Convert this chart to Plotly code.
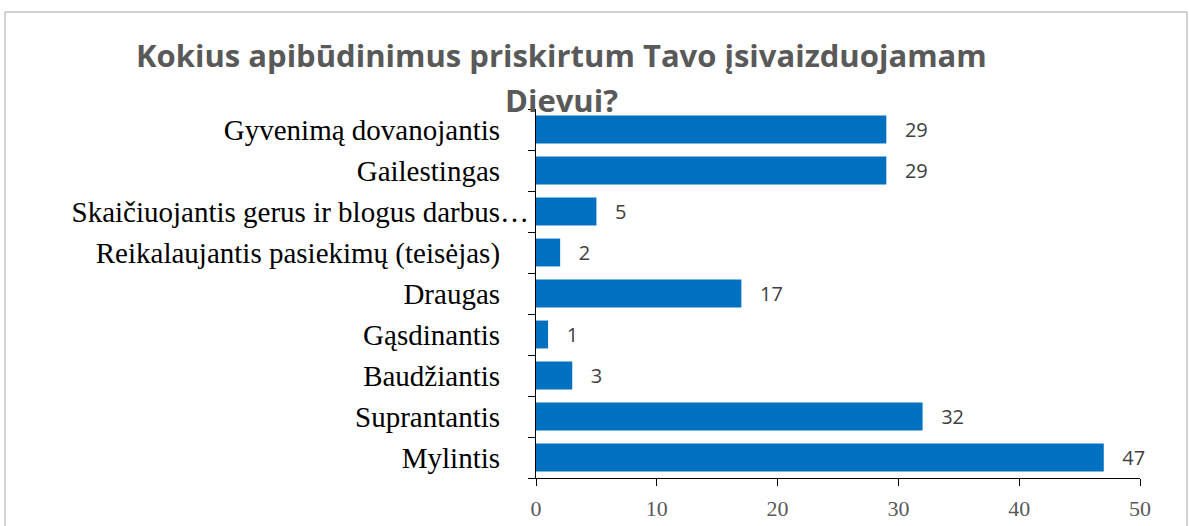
import plotly.graph_objects as go

categories = [
    "Mylintis",
    "Suprantantis",
    "Baudžiantis",
    "Gąsdinantis",
    "Draugas",
    "Reikalaujantis pasiekimų (teisėjas)",
    "Skaičiuojantis gerus ir blogus darbus…",
    "Gailestingas",
    "Gyvenimą dovanojantis",
]
values = [47, 32, 3, 1, 17, 2, 5, 29, 29]
tick_vals = [0, 10, 20, 30, 40, 50]
title_lines = ["Kokius apibūdinimus priskirtum Tavo įsivaizduojamam", "Dievui?"]

NB = "\u00a0"
tick_text = [c if c.endswith("…") else c + NB * 4 for c in categories]

L, R, T, B = 536, 49, 109, 48
PW, PH = 1189 - L - R, 526 - T - B

fig = go.Figure()
fig.add_trace(go.Bar(
    x=values, y=categories, orientation="h",
    marker=dict(color="#0070C0", line=dict(width=0)),
    text=[f"{NB*3}{v}" for v in values],
    textposition="outside", constraintext="none", cliponaxis=False,
    textfont=dict(family="Open Sans", size=20, color="#404040"),
    hoverinfo="skip",
))

def px_x(x):
    return (x - L) / PW

def px_y(y):
    return (526 - B - y) / PH

fig.update_layout(
    width=1189, height=526,
    margin=dict(l=L, r=R, t=T, b=B, autoexpand=False),
    paper_bgcolor="white", plot_bgcolor="white",
    showlegend=False, bargap=0.32,
    font=dict(family="Liberation Serif"),
    xaxis=dict(
        range=[0, 50], tickvals=tick_vals, showgrid=False, zeroline=False,
        showline=True, linecolor="black", linewidth=1.3,
        ticks="outside", ticklen=7, tickcolor="black", tickwidth=1.3,
        tickfont=dict(family="Liberation Serif", size=22, color="#595959"),
        ticklabelstandoff=3, automargin=False,
    ),
    yaxis=dict(
        categoryorder="array", categoryarray=categories,
        tickvals=categories, ticktext=tick_text,
        showgrid=False, zeroline=False,
        showline=True, linecolor="black", linewidth=1.3,
        ticks="outside", ticklen=7, tickcolor="black", tickwidth=1.3,
        tickson="boundaries", automargin=False,
        tickfont=dict(family="Liberation Serif", size=29, color="black"),
    ),
    shapes=[dict(
        type="rect", xref="paper", yref="paper",
        x0=px_x(5), x1=px_x(1187), y0=px_y(540), y1=px_y(12),
        line=dict(color="#a6a6a6", width=1), fillcolor="rgba(0,0,0,0)", layer="below",
    )],
    annotations=[
        dict(text=title_lines[0], xref="paper", yref="paper",
             x=px_x(561), y=px_y(55), xanchor="center", yanchor="middle",
             showarrow=False, font=dict(family="Open Sans", size=31, color="#595959", weight="bold")),
        dict(text=title_lines[1], xref="paper", yref="paper",
             x=px_x(561), y=px_y(100), xanchor="center", yanchor="middle",
             showarrow=False, font=dict(family="Open Sans", size=31, color="#595959", weight="bold")),
    ],
)

fig.write_html(
    "out.html",
    config={"displayModeBar": False},
    post_script="document.body.style.margin='0';document.body.style.overflow='hidden';",
)
